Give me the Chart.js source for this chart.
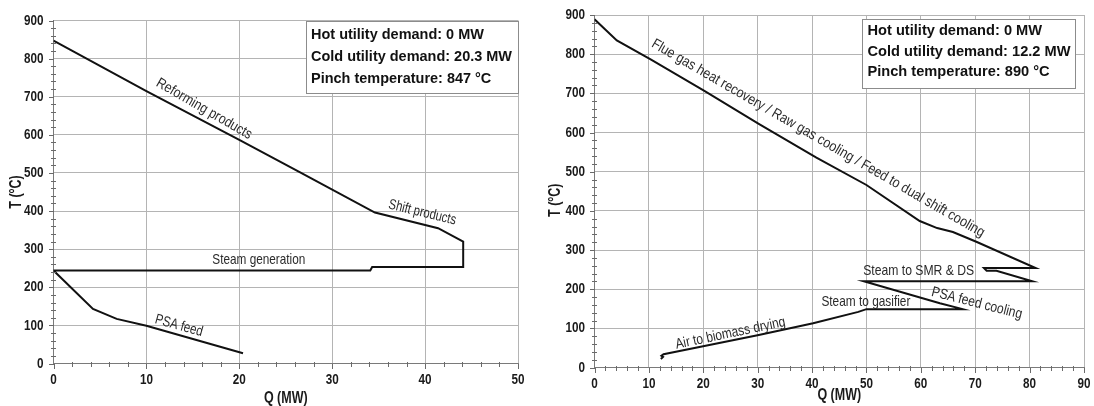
<!DOCTYPE html>
<html><head><meta charset="utf-8">
<script src="https://cdn.jsdelivr.net/npm/chart.js@4.4.0/dist/chart.umd.min.js"></script>
<style>
html,body{margin:0;padding:0;background:#fff;overflow:hidden}
#wrap{position:relative;width:1094px;height:406px;background:#fff}
.c{position:absolute;top:0}
</style></head><body>
<div id="wrap">
<div class="c" style="left:0"><canvas id="c1" width="540" height="406"></canvas></div>
<div class="c" style="left:545px"><canvas id="c2" width="549" height="406"></canvas></div>
</div>
<script>
// ---------- DATA ----------
// Left: grand composite curve (Q in MW, T in °C)
const leftQ = [0, 10, 20, 26.6, 34.6, 41.4, 44.1, 44.1, 34.3, 34.1, 0, 4.25, 6.8, 10, 20.4];
const leftT = [847, 715, 587, 501, 396, 355, 320, 253, 253, 244, 244, 143, 117, 99, 27];
// Right: grand composite curve
const rightQ = [0, 4.1, 10.4, 20.2, 30.2, 40.8, 50, 59.8, 63, 65.9, 70.2, 81.1, 71.6, 72.1, 73.9, 80.5, 49.5, 63.5, 67.7, 50, 48.5, 40.2, 30.2, 20.2, 12.7, 12.3, 12.6, 12.2];
const rightT = [889, 835, 786, 706, 622, 536, 466, 374, 356, 346, 321, 254, 254, 247, 247, 220, 220, 164, 149, 149, 142, 113, 83, 55, 34, 30, 27, 22];

const leftXTicks = [0, 10, 20, 30, 40, 50];
const rightXTicks = [0, 10, 20, 30, 40, 50, 60, 70, 80, 90];
const yTicks = [0, 100, 200, 300, 400, 500, 600, 700, 800, 900];

const leftBoxLines = ["Hot utility demand: 0 MW", "Cold utility demand: 20.3 MW", "Pinch temperature: 847 °C"];
const rightBoxLines = ["Hot utility demand: 0 MW", "Cold utility demand: 12.2 MW", "Pinch temperature: 890 °C"];

const leftCurveLabels = ["Reforming products", "Shift products", "Steam generation", "PSA feed"];
const rightCurveLabels = ["Flue gas heat recovery / Raw gas cooling / Feed to dual shift cooling",
  "Steam to SMR & DS", "PSA feed cooling", "Steam to gasifier", "Air to biomass drying"];

const xTitle = "Q (MW)";
const yTitle = "T (°C)";

// ---------- FONT ----------
function hasFont(name){
  const c = document.createElement('canvas').getContext('2d');
  c.font = '20px monospace'; const a = c.measureText('abcdefghijklmWWW').width;
  c.font = '20px "' + name + '", monospace'; const b = c.measureText('abcdefghijklmWWW').width;
  return Math.abs(a - b) > 0.5;
}
const NARROW = hasFont('Liberation Sans Narrow') ? '"Liberation Sans Narrow"' :
               (hasFont('Arial Narrow') ? '"Arial Narrow"' : null);
const FAM = NARROW ? NARROW + ', "Liberation Sans", Arial, sans-serif' : '"Liberation Sans", Arial, sans-serif';
const SQUEEZE = NARROW ? 1 : 0.78;   // horizontal condensing when no narrow face is installed

// ---------- HELPERS ----------
function drawText(ctx, text, x, y, opt){
  ctx.save();
  ctx.font = opt.font;
  ctx.fillStyle = opt.color;
  ctx.textAlign = opt.align || 'center';
  ctx.textBaseline = 'middle';
  let sx = SQUEEZE;
  if (opt.w) sx = opt.w / ctx.measureText(text).width;
  ctx.translate(x, y);
  ctx.rotate((opt.rot || 0) * Math.PI / 180);
  ctx.scale(sx, 1);
  ctx.fillText(text, 0, 0);
  ctx.restore();
}

const axisDecor = {
  id: 'axisDecor',
  afterDraw(chart, args, o){
    const {ctx, chartArea: a, scales: {x, y}} = chart;
    ctx.save();
    ctx.strokeStyle = '#6a6a6a';
    ctx.lineWidth = 1;
    ctx.beginPath();
    const nx = Math.round(o.xMax / o.xMinor);
    for (let i = 0; i <= nx; i++){
      const px = Math.round(x.getPixelForValue(i * o.xMinor)) + 0.5;
      const major = (i % o.xEvery) === 0;
      ctx.moveTo(px, Math.round(a.bottom) - (major ? 0 : 2));
      ctx.lineTo(px, Math.round(a.bottom) + (major ? 5 : 3));
    }
    const ny = Math.round(o.yMax / o.yMinor);
    for (let i = 0; i <= ny; i++){
      const py = Math.round(y.getPixelForValue(i * o.yMinor)) + 0.5;
      const major = (i % o.yEvery) === 0;
      ctx.moveTo(Math.round(a.left) - (major ? 5 : 3), py);
      ctx.lineTo(Math.round(a.left) + (major ? 0 : 2), py);
    }
    ctx.stroke();
    ctx.restore();
    // tick labels
    const tf = 'bold 15px ' + FAM;
    o.xTicks.forEach(v => drawText(ctx, String(v), x.getPixelForValue(v), a.bottom + o.xLabOff, {font: tf, color: '#1a1a1a'}));
    yTicks.forEach(v => drawText(ctx, String(v), a.left - o.yLabOff, y.getPixelForValue(v), {font: tf, color: '#1a1a1a', align: 'right'}));
    // axis titles
    const ttf = 'bold 16px ' + FAM;
    drawText(ctx, xTitle, (a.left + a.right) / 2, o.xTitleY, {font: ttf, color: '#1a1a1a'});
    drawText(ctx, yTitle, o.yTitleX, (a.top + a.bottom) / 2 + o.yTitleDy, {font: ttf, color: '#1a1a1a', rot: -90});
  }
};

const annotations = {
  id: 'annotations',
  afterDatasetsDraw(chart, args, o){
    const {ctx, chartArea: a, scales: {x, y}} = chart;
    o.labels.forEach(l => {
      drawText(ctx, l.text, x.getPixelForValue(l.q), y.getPixelForValue(l.t),
        {font: '14.5px ' + FAM, color: '#2b2b2b', rot: l.rot, w: l.w});
    });
    const b = o.box;
    const bx = Math.round(a.right - b.dx - b.w) + 0.5, by = Math.round(a.top + b.dy) + 0.5;
    ctx.save();
    ctx.fillStyle = '#fff';
    ctx.strokeStyle = '#8c8c8c';
    ctx.lineWidth = 1;
    ctx.fillRect(bx, by, b.w, b.h);
    ctx.strokeRect(bx, by, b.w, b.h);
    ctx.font = 'bold 15.5px ' + FAM;
    let maxW = 0;
    b.lines.forEach(t => { maxW = Math.max(maxW, ctx.measureText(t).width); });
    const sx = b.textW / maxW;
    ctx.fillStyle = '#111';
    ctx.textAlign = 'left';
    ctx.textBaseline = 'middle';
    b.lines.forEach((t, i) => {
      ctx.save();
      ctx.translate(bx + b.padL, by + b.firstY + i * b.lineGap);
      ctx.scale(sx, 1);
      ctx.fillText(t, 0, 0);
      ctx.restore();
    });
    ctx.restore();
  }
};

function makeChart(id, q, t, xTicks, cfg){
  const pts = q.map((v, i) => ({x: v, y: t[i]}));
  const xMax = xTicks[xTicks.length - 1];
  return new Chart(document.getElementById(id), {
    type: 'scatter',
    data: {datasets: [{data: pts, showLine: true, borderColor: '#111', borderWidth: 2,
      pointRadius: 0, pointHoverRadius: 0, tension: 0, fill: false, borderJoinStyle: 'miter'}]},
    options: {
      responsive: false, animation: false, devicePixelRatio: 1,
      layout: {padding: {left: 0, top: cfg.top, right: cfg.right, bottom: 0}},
      plugins: {
        legend: {display: false}, tooltip: {enabled: false},
        axisDecor: {xMax: xMax, xMinor: 2, xEvery: 5, yMax: 900, yMinor: 20, yEvery: 5, xTicks: xTicks,
          xLabOff: cfg.xLabOff, yLabOff: cfg.yLabOff, xTitleY: cfg.xTitleY, yTitleX: cfg.yTitleX, yTitleDy: cfg.yTitleDy},
        annotations: {labels: cfg.labels, box: cfg.box}
      },
      scales: {
        x: {
          type: 'linear', min: 0, max: xMax,
          afterBuildTicks: s => { s.ticks = xTicks.map(v => ({value: v})); },
          ticks: {display: false},
          grid: {color: '#b4b4b4', lineWidth: 1, drawTicks: false},
          border: {color: '#7a7a7a', width: 1},
          afterFit: s => { s.height = cfg.xH; }
        },
        y: {
          type: 'linear', min: 0, max: 900,
          afterBuildTicks: s => { s.ticks = yTicks.map(v => ({value: v})); },
          ticks: {display: false},
          grid: {color: '#b4b4b4', lineWidth: 1, drawTicks: false},
          border: {color: '#7a7a7a', width: 1},
          afterFit: s => { s.width = cfg.yW; }
        }
      }
    },
    plugins: [axisDecor, annotations]
  });
}

makeChart('c1', leftQ, leftT, leftXTicks, {
  top: 20.5, right: 22, xH: 42.5, yW: 53.5,
  xLabOff: 16.5, yLabOff: 10, xTitleY: 398.5, yTitleX: 17, yTitleDy: 0,
  labels: [
    {text: leftCurveLabels[0], q: 16.2, t: 668, rot: 30, w: 108},
    {text: leftCurveLabels[1], q: 39.7, t: 396, rot: 13.7, w: 69},
    {text: leftCurveLabels[2], q: 22.1, t: 272, rot: 0, w: 93},
    {text: leftCurveLabels[3], q: 13.5, t: 99, rot: 15.4, w: 49}
  ],
  box: {lines: leftBoxLines, w: 212, h: 72, dx: 0, dy: 0, padL: 4.5, firstY: 13.5, lineGap: 22, textW: 201}
});

makeChart('c2', rightQ, rightT, rightXTicks, {
  top: 15, right: 10, xH: 38.5, yW: 49.5,
  xLabOff: 16, yLabOff: 9.5, xTitleY: 395.5, yTitleX: 10.5, yTitleDy: 9,
  labels: [
    {text: rightCurveLabels[0], q: 41.1, t: 585, rot: 30, w: 382},
    {text: rightCurveLabels[1], q: 59.6, t: 246, rot: 0, w: 111},
    {text: rightCurveLabels[2], q: 70.3, t: 164, rot: 14.3, w: 93},
    {text: rightCurveLabels[3], q: 49.9, t: 168, rot: 0, w: 89},
    {text: rightCurveLabels[4], q: 25.0, t: 87, rot: -11.8, w: 112}
  ],
  box: {lines: rightBoxLines, w: 213, h: 69, dx: 9, dy: 3.5, padL: 5, firstY: 11.5, lineGap: 20.5, textW: 203}
});
</script>
</body></html>
